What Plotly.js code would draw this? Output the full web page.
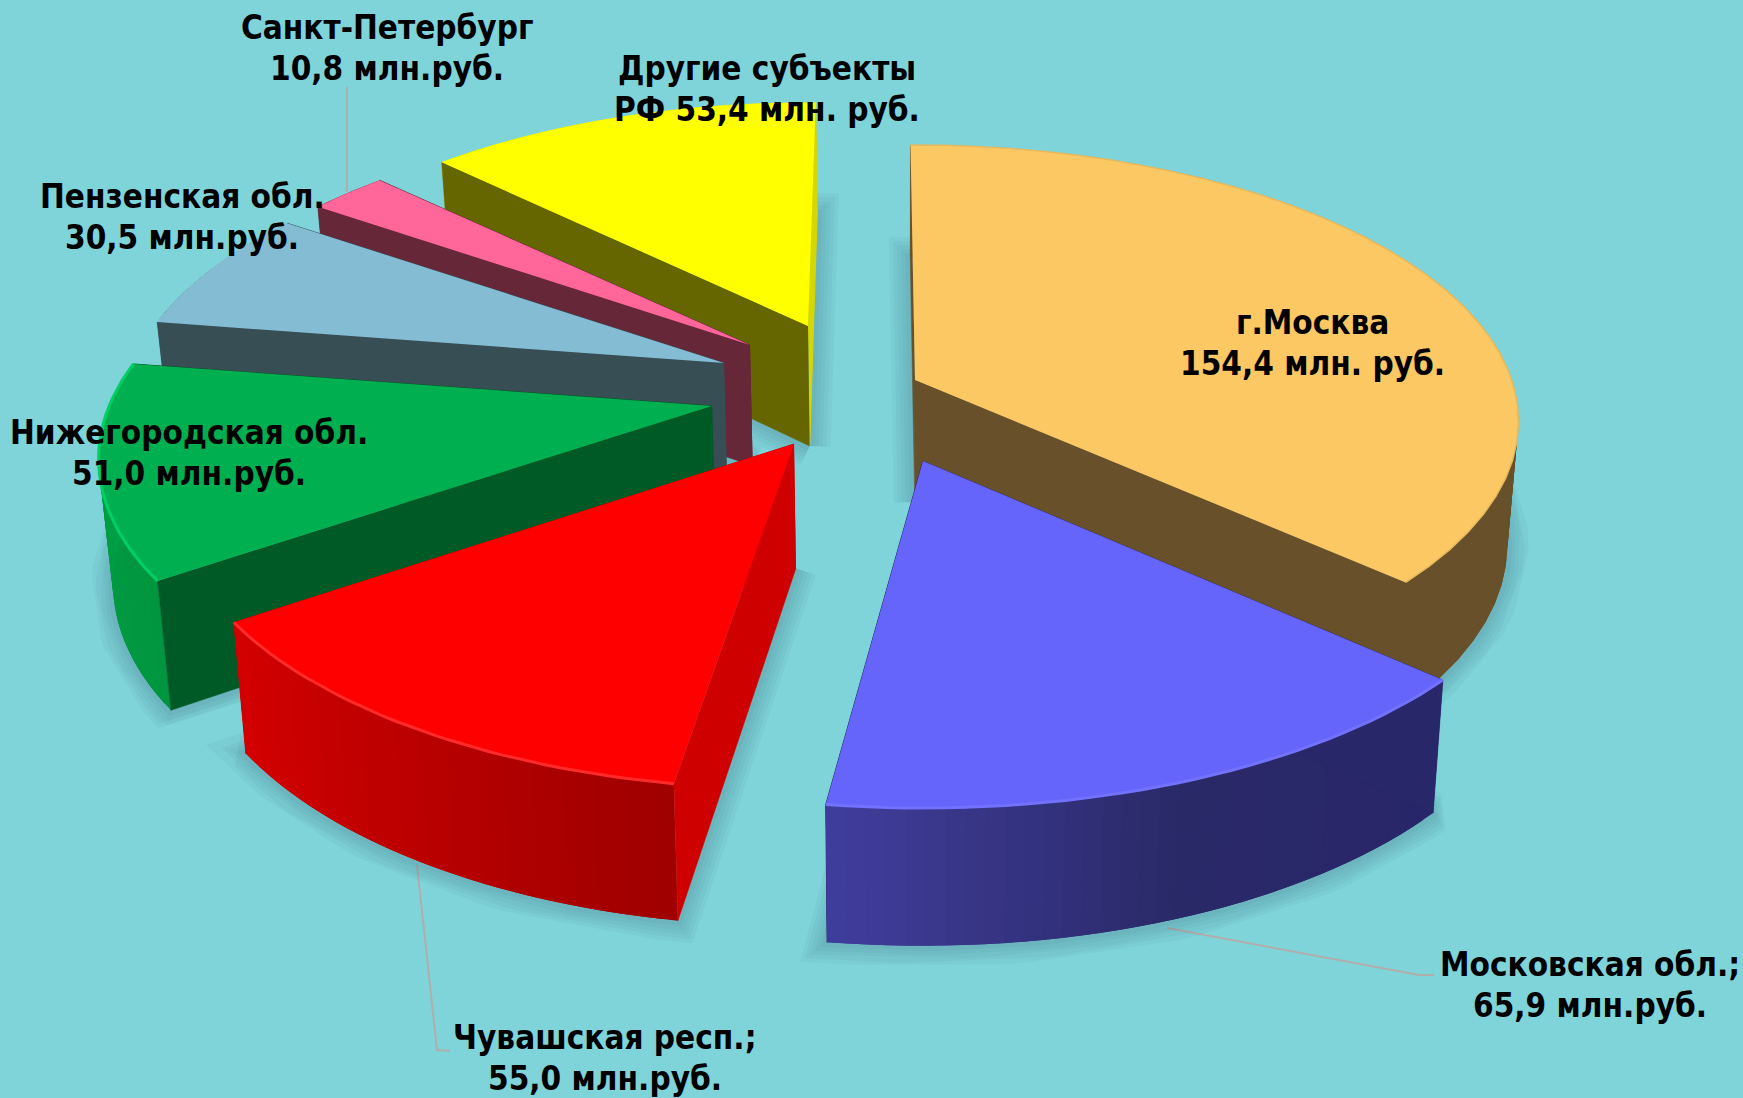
<!DOCTYPE html>
<html><head><meta charset="utf-8">
<script src="https://cdn.plot.ly/plotly-3.0.1.min.js"></script>
<style>html,body{margin:0;padding:0;background:#7ed4d9}#c{width:1743px;height:1098px}</style>
</head><body><div id="c"></div>
<script>
// ---- data (clockwise from 12 o'clock) ----
const regions = ["г.Москва","Московская обл.","Чувашская респ.","Нижегородская обл.","Пензенская обл.","Санкт-Петербург","Другие субъекты РФ"];
const values  = [154.4, 65.9, 55.0, 51.0, 30.5, 10.8, 53.4];
const labelTop = ["г.Москва","Московская обл.;","Чувашская респ.;","Нижегородская обл.","Пензенская обл.","Санкт-Петербург","Другие субъекты"];
const labelBottom = ["154,4 млн. руб.","65,9 млн.руб.","55,0 млн.руб.","51,0 млн.руб.","30,5 млн.руб.","10,8 млн.руб.","РФ 53,4 млн. руб."];
// ---- styling ----
const topColor  = ["#fcc864","#6565fb","#fe0000","#00b050","#84bcd4","#ff6699","#ffff00"];
const rimColor  = ["#e6b95e","#7272ff","#ff2a2a","#00cf63","#8cc2da","#ff6699","#ffff00"];
const startFace = ["#67502a","#28276a","#cf0000","#005a26","#374e55","#662739","#666600"];
const endFace   = ["#67502a","#28276a","#cf0000","#005a26","#374e55","#662739","#d6d600"];
const wallStops = [["#67502a","#67502a","#67502a"],["#28266a","#2a2968","#403e9c"],["#9e0000","#bb0000","#d40000"],
                   ["#00963f","#009a42","#00a84a"],["#374e55","#374e55","#374e55"],["#662739","#662739","#662739"],["#d6d600","#d6d600","#d6d600"]];
const rimWidth  = [1.5,3,3,3,1,0.5,0.5];
// ---- explode & perspective ----
const pullX = [915,923,794,712,724,750,808];
const pullY = [380,461,444,406,363,345,326];
const scaleX= [0.975,1.01,0.995,0.985,0.965,0.955,0.945];
const scaleY= [0.965,1.01,1.005,0.985,0.96,0.95,0.945];
const persp = [0.15,0.185,0.185,0.185,0.185,0.185,0.185];
const nudgeS= [-0.5,0.6,0.9,0,0,0,0];
const nudgeE= [0.3,-1,0,0,0,0,0.9];
const A=612, B=280;
const paintOrder=[6,5,4,3,2,0,1];
const total=values.reduce((a,b)=>a+b,0);
const rad=d=>d*Math.PI/180;
function rimPt(i,deg){const t=rad(deg),s=1/(1+persp[i]*Math.cos(t));
  return [pullX[i]+A*scaleX[i]*Math.sin(t)*s, pullY[i]-B*scaleY[i]*Math.cos(t)*s];}
function foot(p){return [p[0]+(900-p[0])*0.018, p[1]+120+(p[1]-326)*0.037];}
function hex(c){return [1,3,5].map(j=>parseInt(c.substr(j,2),16));}
function mix(a,b,t){const x=hex(a),y=hex(b);return "rgb("+x.map((v,j)=>Math.round(v+(y[j]-v)*t)).join(",")+")";}
function poly(pts,color,lw,extra){return Object.assign({type:"scatter",mode:"lines",x:pts.map(p=>p[0]),y:pts.map(p=>p[1]),
  fill:"toself",fillcolor:color,line:{color:color,width:lw||0},hoverinfo:"skip",showlegend:false},extra||{});}
function path(pts,color,w){return {type:"scatter",mode:"lines",x:pts.map(p=>p[0]),y:pts.map(p=>p[1]),
  line:{color:color,width:w},hoverinfo:"skip",showlegend:false};}

let cum=0; const spans=values.map((v,i)=>{const a=cum*360/total+nudgeS[i];cum+=v;return [a,cum*360/total+nudgeE[i]];});
const N=36;
function arc(i){const r=[];for(let j=0;j<=N;j++)r.push(rimPt(i,spans[i][0]+(spans[i][1]-spans[i][0])*j/N));return r;}

const traces=[];
// soft floor shadows
[42,34,26,18,10].forEach(w=>{paintOrder.forEach(i=>{
  const ap=[pullX[i],pullY[i]];
  const outline=[ap].concat(arc(i)).concat([ap]).map(foot);
  traces.push(path(outline,"rgba(40,80,95,0.045)",w));
});});
// solids, far to near
paintOrder.forEach(i=>{
  const ap=[pullX[i],pullY[i]], rim=arc(i);
  const s=rim[0], e=rim[N];
  traces.push(poly([ap,e,foot(e),foot(ap)],endFace[i],1));
  for(let j=0;j<N;j++){
    const t=(j+0.5)/N, st=wallStops[i];
    const c=t<0.5?mix(st[0],st[1],t*2):mix(st[1],st[2],(t-0.5)*2);
    const k=Math.min(j+2,N);
    const strip=rim.slice(j,k+1);
    traces.push(poly(strip.concat(strip.slice().reverse().map(foot)),c));
  }
  traces.push(poly([ap,s,foot(s),foot(ap)],startFace[i],0.5));
  traces.push(poly([ap].concat(rim),topColor[i],0,{name:regions[i]}));
  traces.push(path(rim,rimColor[i],rimWidth[i]));
});

const labelX=[1312,1590,605,189,182,387,767], labelY=[343,985,1058,453,217,48,89];
const annotations=[];
const labelFont={family:"'DejaVu Sans Condensed','DejaVu Sans',sans-serif",size:33,color:"#000"};
regions.forEach((r,i)=>{
  [labelTop[i],labelBottom[i]].forEach((line,j)=>annotations.push({
    xref:"x",yref:"y",x:labelX[i],y:labelY[i]+(j?20.5:-20.5),text:"<b>"+line+"</b>",
    showarrow:false,align:"center",xanchor:"center",yanchor:"middle",font:labelFont}));
});
const leader=(pts)=>({type:"path",layer:"below",xref:"x",yref:"y",
  path:"M"+pts.map(p=>p.join(",")).join("L"),line:{color:"#b0adad",width:2}});
const shapes=[
  leader([[1167,928],[1419,975],[1434,975]]),
  leader([[417,865],[437,1050],[450,1051]]),
  leader([[347,87],[347,192]])
];
Plotly.newPlot("c",traces,{
  width:1743,height:1098,margin:{l:0,r:0,t:0,b:0},
  paper_bgcolor:"#7ed4d9",plot_bgcolor:"#7ed4d9",showlegend:false,
  xaxis:{range:[0,1743],visible:false,fixedrange:true},
  yaxis:{range:[1098,0],visible:false,fixedrange:true},
  annotations,shapes
},{displayModeBar:false,staticPlot:true});
</script></body></html>
